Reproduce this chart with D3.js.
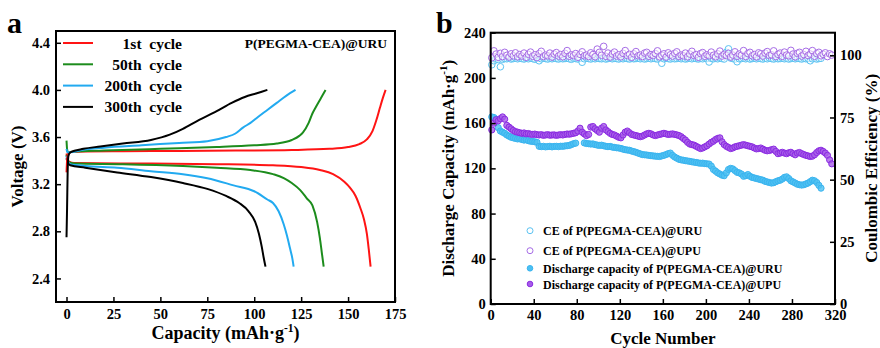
<!DOCTYPE html>
<html>
<head>
<meta charset="utf-8">
<script src="https://cdn.jsdelivr.net/npm/d3@7"></script>
<style>
  html, body { margin: 0; padding: 0; background: #fff; }
  svg { display: block; }
  text { font-family: "Liberation Serif", "Times New Roman", serif; font-weight: bold; fill: #000; }
</style>
</head>
<body>
<svg id="chart" width="880" height="348"></svg>
<script>
// ---- panel a: charge / discharge curves, [capacity mAh/g, voltage V] ----
const cycleNames = ['1st  cycle', '50th  cycle', '200th  cycle', '300th  cycle'];
const cycleColors = ['#ff1414', '#1c8c1c', '#22aaf0', '#000000'];

const charge1 = [[0,3.30],[0.4,3.42],[1,3.46],[3,3.475],[10,3.478],[30,3.48],[60,3.482],[90,3.485],[120,3.49],[140,3.50],[150,3.515],[156,3.54],[160,3.58],[163,3.65],[165,3.74],[167,3.85],[168.5,3.93],[170,4.0]];
const charge50 = [[0,3.57],[0.3,3.50],[0.8,3.47],[3,3.475],[20,3.485],[50,3.50],[80,3.515],[100,3.53],[112,3.545],[120,3.575],[124,3.61],[126,3.64],[129,3.72],[131,3.80],[133,3.86],[135.5,3.93],[138,4.0]];
const charge200 = [[0,3.50],[0.5,3.47],[2,3.47],[8,3.49],[20,3.51],[40,3.53],[60,3.55],[75,3.565],[85,3.60],[90,3.63],[94,3.68],[98,3.72],[102,3.77],[107,3.83],[112,3.89],[117,3.95],[122,4.0]];
const charge300 = [[0,2.75],[0.3,3.0],[0.6,3.3],[1,3.44],[2,3.47],[9,3.50],[18,3.52],[30,3.545],[45,3.575],[55,3.62],[62,3.67],[70,3.74],[80,3.82],[88,3.89],[95,3.94],[101,3.97],[107,4.0]];

const discharge1 = [[0,3.46],[0.5,3.42],[1.5,3.39],[4,3.38],[40,3.375],[80,3.37],[110,3.36],[125,3.345],[135,3.32],[142,3.285],[148,3.22],[151,3.17],[154,3.10],[156.5,3.0],[158.5,2.9],[160,2.78],[161,2.65],[162,2.5]];
const discharge50 = [[0,3.45],[0.5,3.41],[1.5,3.385],[5,3.375],[30,3.37],[62,3.355],[80,3.34],[98,3.32],[110,3.285],[116,3.25],[120,3.21],[124.5,3.15],[128,3.08],[131,3.02],[133.5,2.88],[135,2.74],[136,2.62],[137,2.5]];
const discharge200 = [[0,3.44],[0.5,3.40],[2,3.37],[10,3.355],[27,3.34],[45,3.31],[62,3.285],[75,3.25],[89,3.19],[100,3.14],[107,3.07],[110,3.04],[113,2.97],[115.7,2.86],[117.5,2.76],[119,2.66],[120.3,2.57],[121,2.5]];
const discharge300 = [[0,3.42],[0.5,3.39],[2,3.36],[10,3.34],[27,3.30],[45,3.26],[62,3.21],[75,3.16],[85,3.10],[92,3.04],[97,2.97],[100.5,2.88],[102.5,2.78],[104,2.67],[105,2.58],[106,2.5]];

const chargeCurves = [charge1, charge50, charge200, charge300];
const dischargeCurves = [discharge1, discharge50, discharge200, discharge300];

const capTicks = [0, 25, 50, 75, 100, 125, 150, 175];
const voltTicks = [2.4, 2.8, 3.2, 3.6, 4.0, 4.4];

// ---- panel b: cycling, every second cycle (1, 3, 5, ...) ----
// discharge capacity of @URU, cycles 1..307 (null = missing points)
const capURU = [
  165.5,165,163.5,156,153,152,151,149.5,148.5,147.5,
  147,146.5,146,146.2,145.5,145,145.3,144.5,144,143.8,
  143.5,143,139.5,139.2,139.5,139,139.3,139.5,139,139.4,
  139.5,139.2,139.6,139.5,139.8,140,140.3,141,141.8,142.3,
  null,null,null,142.5,142,141.8,141.5,141.6,141,140.6,
  140.3,140.5,140,139.5,139.2,139.4,138.8,138.5,138.2,138,
  137.6,137,136.5,136.2,136,135.3,134.8,134.2,133.5,132.8,
  132.2,132,131.8,131.5,131.2,131,130.8,130.6,130.5,131,
  131.5,132.2,133,133.5,131.5,130,129,128,127.5,127.2,
  126.8,126.5,126.2,125.8,125.5,125.2,124.8,124.5,124.6,124.2,
  124,123.8,122,119,117.5,116,115,114,113.5,116,
  119,120,119.5,118,116.5,116,115,113,113.5,114.5,
  113,112,111.5,111,110.5,110,109.5,108.5,108,107.5,
  107,107.3,108.2,109,109.5,110.5,112,112.5,111,109,
  108,107,106,105.5,105.2,105.5,106.2,107,108.2,109.5,
  109,107.5,105,102.5
];
// discharge capacity of @UPU, cycles 1..317
const capUPU = [
  154,160,163,162,164,165.5,163.5,158,156.5,155,
  153.5,152.5,152,151.5,151,151.3,150.5,150.8,150.2,150,
  150.3,149.8,149.5,149.8,149.2,149.5,149.8,149.3,149.5,149.6,
  149.2,149.5,149.8,149.5,150,150.4,150.2,150.6,151,151.5,
  153,155.5,152,150.5,149,150,156.5,157,155,153.5,
  152,155.5,157,154,152.5,151,150,149.5,148.5,147.5,
  147,149.5,152,153,151.5,150,149.5,149,148.5,148,
  148.5,149.5,150.5,151,150.5,149.5,149,149.5,150,150.5,
  151,150.5,150,150.2,150.5,150,149.6,149,148,146.5,
  145,143,141.5,141,140.5,139.5,138.5,137.5,138,139,
  140,141.5,143,144,145.5,146.5,147,143.5,141,139.5,
  138.5,137.5,138,139,139.5,140,140.5,141,140.5,140,
  139.5,139,138,137.2,137.5,138,137,136,135.5,135.8,
  136.5,137,135,133,133.5,134.2,133.5,133,133.8,134.2,
  133,132,133.5,134,133,132.2,131.5,131,130.5,130.8,
  132,134,135.5,136,135,133.5,131.5,127.5,124
];
// coulombic efficiency (%) of @URU, cycles 1..307
const ceURU = [
  96.2,97.8,98.5,98.3,95.4,98.4,98.7,98.6,98.8,98.5,
  98.7,98.9,98.6,98.8,98.7,98.5,98.8,98.6,98.9,98.7,
  98.4,98.8,97.8,98.6,98.9,98.7,98.5,98.8,98.6,98.9,
  98.7,98.5,98.8,98.6,98.7,98.9,98.6,98.4,98.8,98.7,
  98.5,98.8,97.2,98.6,98.9,98.7,98.5,98.8,98.6,98.9,
  98.7,98.6,98.8,98.5,98.7,98.9,98.6,98.8,98.7,98.5,
  98.8,98.6,98.9,98.7,98.5,98.8,98.6,98.7,98.9,98.6,
  98.8,98.5,98.7,98.9,98.6,98.8,98.7,98.5,98.8,96.8,
  98.6,98.9,98.7,98.5,98.8,98.6,98.7,98.9,98.6,98.8,
  98.5,98.7,98.9,98.6,98.8,98.7,98.5,98.8,98.6,98.9,
  98.7,97.3,98.8,98.6,98.8,98.6,98.9,98.7,98.5,101.2,
  102.6,98.9,98.7,98.5,97.4,98.6,98.7,98.9,98.6,98.8,
  98.5,98.7,98.9,98.6,98.8,98.7,98.5,98.8,98.6,98.9,
  98.7,98.5,98.8,98.6,98.7,98.9,98.6,98.8,98.5,98.7,
  98.9,98.6,98.8,98.7,98.5,98.8,98.6,98.7,97.8,98.6,
  98.8,98.5,98.7,98.8
];
// coulombic efficiency (%) of @UPU, cycles 1..317
const ceUPU = [
  99.0,101.8,100.5,99.2,100.8,99.5,101.2,100.0,99.3,100.6,
  99.8,101.0,99.4,100.3,99.7,100.9,99.2,100.4,101.3,99.6,
  100.2,99.1,100.7,101.6,99.5,100.1,99.8,100.9,99.3,100.5,
  101.1,99.7,100.3,99.4,100.8,101.9,99.6,100.2,99.9,100.7,
  99.2,100.4,101.4,99.8,100.1,99.5,101.0,100.3,99.4,102.5,
  101.2,100.0,103.6,99.6,100.9,99.3,100.5,101.3,99.7,100.2,
  99.4,100.8,101.9,99.9,100.4,99.2,100.6,101.5,99.8,100.1,
  99.5,100.9,101.2,99.6,100.3,99.9,100.7,101.8,99.4,100.0,
  100.6,99.3,101.0,100.2,99.7,100.8,101.4,99.5,100.1,99.8,
  100.9,99.4,100.5,101.6,99.9,100.3,99.2,100.7,101.1,99.6,
  100.2,99.8,101.3,100.0,99.4,100.6,101.7,99.7,100.4,99.9,
  100.8,99.3,100.1,101.4,99.6,100.5,100.0,101.9,99.5,100.7,
  101.2,99.8,100.3,99.4,101.0,100.6,99.7,100.9,101.5,99.9,
  100.2,101.8,99.5,100.4,100.9,99.6,101.3,100.1,99.8,102.0,
  100.5,99.4,100.8,101.2,99.7,100.3,101.6,99.9,100.5,101.9,
  99.6,100.7,101.2,99.8,100.4,101.0,99.5,100.6,100.1
];

const cycleTicks = [0, 40, 80, 120, 160, 200, 240, 280, 320];
const capacityTicks = [0, 40, 80, 120, 160, 200, 240];
const ceTicks = [0, 25, 50, 75, 100];
const legendB = ['CE of P(PEGMA-CEA)@URU', 'CE of P(PEGMA-CEA)@UPU',
  'Discharge capacity of P(PEGMA-CEA)@URU', 'Discharge capacity of P(PEGMA-CEA)@UPU'];

const blueStroke = '#3ab4ef', blueFill = '#4cc0f2';
const purpleStroke = '#8a2be2', purpleFill = '#a75ce8';
const ceBlue = '#5cc3f2', cePurple = '#a66ce6';

const svg = d3.select('#chart');

function frame(x0, y0, x1, y1) {
  svg.append('rect')
    .attr('x', x0).attr('y', y0)
    .attr('width', x1 - x0).attr('height', y1 - y0)
    .attr('fill', 'none').attr('stroke', '#000').attr('stroke-width', 2);
}

function styleAxis(g, size) {
  g.select('.domain').remove();
  g.selectAll('.tick line').attr('stroke', '#000').attr('stroke-width', 1.5);
  g.selectAll('.tick text')
    .attr('font-family', '"Liberation Serif", "Times New Roman", serif')
    .attr('font-weight', 'bold')
    .attr('font-size', size)
    .attr('fill', '#000');
}

// ================= panel a =================
const ax = { left: 56, right: 395, top: 31, bottom: 302 };
const xA = d3.scaleLinear().domain([-5.6, 175]).range([ax.left, ax.right]);
const yA = d3.scaleLinear().domain([2.2, 4.5]).range([ax.bottom, ax.top]);

const lineA = d3.line().x(d => xA(d[0])).y(d => yA(d[1])).curve(d3.curveMonotoneX);

dischargeCurves.forEach((c, i) => {
  svg.append('path').datum(c).attr('d', lineA)
    .attr('fill', 'none').attr('stroke', cycleColors[i]).attr('stroke-width', 2)
    .attr('stroke-linejoin', 'round');
});
chargeCurves.forEach((c, i) => {
  svg.append('path').datum(c).attr('d', lineA)
    .attr('fill', 'none').attr('stroke', cycleColors[i]).attr('stroke-width', 2)
    .attr('stroke-linejoin', 'round');
});

svg.append('g').attr('transform', `translate(0,${ax.bottom})`)
  .call(d3.axisBottom(xA).tickValues(capTicks).tickSizeInner(-5).tickSizeOuter(0).tickPadding(7))
  .call(g => styleAxis(g, 14.5));
svg.append('g').attr('transform', `translate(${ax.left},0)`)
  .call(d3.axisLeft(yA).tickValues(voltTicks).tickFormat(d3.format('.1f')).tickSizeInner(-5).tickSizeOuter(0).tickPadding(6))
  .call(g => styleAxis(g, 14.5));
frame(ax.left, ax.top, ax.right, ax.bottom);

// legend a
const legA = svg.append('g');
cycleNames.forEach((n, i) => {
  const y = 43 + i * 21.3;
  legA.append('line').attr('x1', 63).attr('x2', 93).attr('y1', y).attr('y2', y)
    .attr('stroke', cycleColors[i]).attr('stroke-width', 2);
  legA.append('text').attr('x', 182).attr('y', y + 5.5).attr('text-anchor', 'end')
    .style('white-space', 'pre').attr('font-size', 15.5).text(n);
});
svg.append('text').attr('x', 387).attr('y', 47.5).attr('text-anchor', 'end')
  .attr('font-size', 13.5).text('P(PEGMA-CEA)@URU');

svg.append('text').attr('x', 7).attr('y', 33).attr('font-size', 30).text('a');
svg.append('text').attr('text-anchor', 'middle').attr('font-size', 17)
  .attr('transform', `translate(23,${(ax.top + ax.bottom) / 2}) rotate(-90)`)
  .text('Voltage (V)');
const capLabel = svg.append('text').attr('x', (ax.left + ax.right) / 2).attr('y', 339)
  .attr('text-anchor', 'middle').attr('font-size', 18);
capLabel.append('tspan').text('Capacity (mAh\u00b7g');
capLabel.append('tspan').attr('font-size', 11.5).attr('dy', -7).text('-1');
capLabel.append('tspan').attr('dy', 7).text(')');

// ================= panel b =================
const bx = { left: 490.7, right: 835, top: 32.7, bottom: 304 };
const xB = d3.scaleLinear().domain([0, 320]).range([bx.left, bx.right]);
const yB = d3.scaleLinear().domain([0, 240]).range([bx.bottom, bx.top]);
const yB2 = d3.scaleLinear().domain([0, 240 / 2.2]).range([bx.bottom, bx.top]);

const toPts = arr => arr.map((v, i) => ({ c: 2 * i + 1, v })).filter(d => d.v !== null);

function scatter(data, yScale, r, stroke, fill, fillOpacity) {
  svg.append('g').selectAll('circle').data(toPts(data)).join('circle')
    .attr('cx', d => xB(d.c)).attr('cy', d => yScale(d.v)).attr('r', r)
    .attr('fill', fill).attr('fill-opacity', fillOpacity)
    .attr('stroke', stroke).attr('stroke-width', 1);
}

scatter(ceURU, yB2, 3.3, ceBlue, '#ffffff', 0.55);
scatter(ceUPU, yB2, 3.3, cePurple, '#ffffff', 0.55);
scatter(capURU, yB, 3.1, blueStroke, blueFill, 0.8);
scatter(capUPU, yB, 3.1, purpleStroke, purpleFill, 0.8);

svg.append('g').attr('transform', `translate(0,${bx.bottom})`)
  .call(d3.axisBottom(xB).tickValues(cycleTicks).tickSizeInner(-5).tickSizeOuter(0).tickPadding(6))
  .call(g => styleAxis(g, 14.5));
svg.append('g').attr('transform', `translate(${bx.left},0)`)
  .call(d3.axisLeft(yB).tickValues(capacityTicks).tickSizeInner(-5).tickSizeOuter(0).tickPadding(5))
  .call(g => styleAxis(g, 14.5));
svg.append('g').attr('transform', `translate(${bx.right},0)`)
  .call(d3.axisRight(yB2).tickValues(ceTicks).tickSizeInner(-5).tickSizeOuter(0).tickPadding(5))
  .call(g => styleAxis(g, 14.5));
frame(bx.left, bx.top, bx.right, bx.bottom);

// legend b
const legRows = [230.7, 250.7, 268.3, 284];
const legStyle = [
  { s: ceBlue, f: '#ffffff', r: 3 }, { s: cePurple, f: '#ffffff', r: 3 },
  { s: blueStroke, f: blueFill, r: 2.8 }, { s: purpleStroke, f: purpleFill, r: 2.8 }
];
legendB.forEach((t, i) => {
  svg.append('circle').attr('cx', 530).attr('cy', legRows[i]).attr('r', legStyle[i].r)
    .attr('fill', legStyle[i].f).attr('stroke', legStyle[i].s).attr('stroke-width', 1);
  svg.append('text').attr('x', 543).attr('y', legRows[i] + 4.5)
    .attr('font-size', 12).text(t);
});

svg.append('text').attr('x', 436).attr('y', 33).attr('font-size', 30).text('b');
const dcLabel = svg.append('text').attr('text-anchor', 'middle').attr('font-size', 17)
  .attr('transform', `translate(454,${(bx.top + bx.bottom) / 2}) rotate(-90)`);
dcLabel.append('tspan').text('Discharge Capacity (mAh\u00b7g');
dcLabel.append('tspan').attr('font-size', 11).attr('dy', -7).text('-1');
dcLabel.append('tspan').attr('dy', 7).text(')');
svg.append('text').attr('text-anchor', 'middle').attr('font-size', 17)
  .attr('transform', `translate(877,${(bx.top + bx.bottom) / 2}) rotate(-90)`)
  .text('Coulombic Efficiency (%)');
svg.append('text').attr('x', (bx.left + bx.right) / 2).attr('y', 344)
  .attr('text-anchor', 'middle').attr('font-size', 17).text('Cycle Number');
</script>
</body>
</html>
